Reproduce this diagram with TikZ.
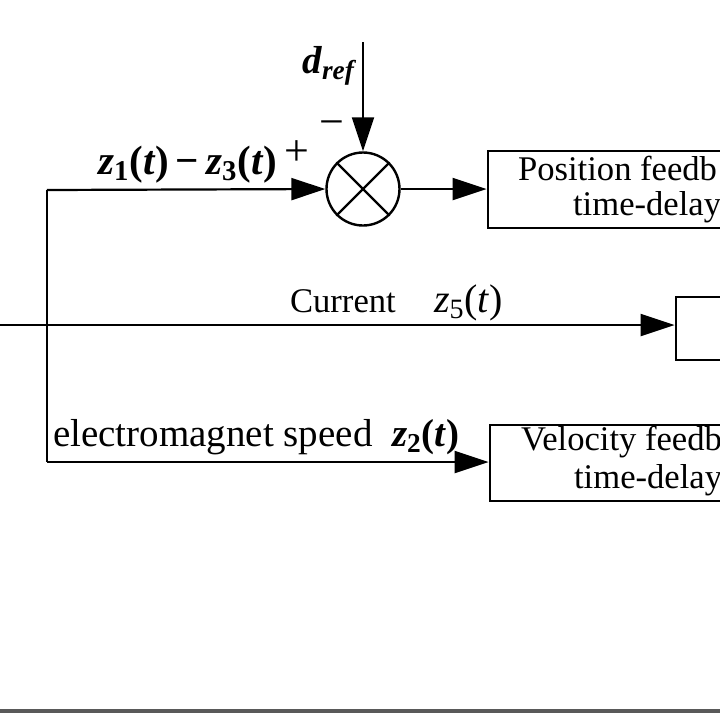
\documentclass[tikz,border=0pt]{standalone}
\usepackage{fontspec}
\setmainfont{Liberation Serif}
\usetikzlibrary{arrows.meta}
\begin{document}
\begin{tikzpicture}[x=0.5pt,y=-0.5pt,line width=1.1pt,
  >={Triangle[length=17pt,width=11pt]},
  blk/.style={draw,line width=1.4pt,rectangle,inner sep=0pt},
  txt/.style={anchor=base west,inner sep=0pt,font=\fontsize{17.3}{20}\selectfont},
  sgn/.style={inner sep=0pt,font=\fontsize{22}{24}\selectfont}]
\useasboundingbox (0,0) rectangle (720,720);
\clip (0,0) rectangle (720,720);
% blocks
\node[blk,minimum width=206pt,minimum height=38.5pt] (PB) at (694,189.5) {};
\node[blk,minimum width=100pt,minimum height=31.5pt] (CB) at (776,328.5) {};
\node[blk,minimum width=205pt,minimum height=38pt] (VB) at (695,463) {};
\node[draw,circle,minimum size=36.5pt,inner sep=0pt,line width=1.2pt] (S) at (363,189) {};
\draw[line width=1.2pt] (S.45) -- (S.225) (S.135) -- (S.315);
% block texts
\node[txt] (p1) at (517,180) {Position feedb};
\node[txt] (p2) at (572,215) {time-delay};
\node[txt] (v1) at (520,450) {Velocity feedb};
\node[txt] (v2) at (573,488) {time-delay};
% coordinates
\coordinate (TL) at (47,190);
\coordinate (BL) at (47,462);
\coordinate (L) at (0,325);
\coordinate (DT) at (363,42);
\coordinate (B1) at (0,711);
\coordinate (B2) at (720,711);
% connectors
\draw (TL) -- (BL);
\draw[->] (TL) -- (S.west);
\draw[->] (S.east) -- (S.east -| PB.west);
\draw[->] (DT) -- (S.north);
\draw[->] (L) -- (L -| CB.west);
\draw[->] (BL) -- (BL -| VB.west);
\draw[line width=2pt,black!65] (B1) -- (B2);
% labels
\node[txt,font=\fontsize{20.5}{22}\selectfont] (z13) at (97,174) {\textbf{\textit{z}\textsubscript{1}(\textit{t})\,−\,\textit{z}\textsubscript{3}(\textit{t})}};
\node[sgn] (plus) at (297,153) {+};
\node[sgn] (minus) at (332,129) {−};
\node[txt,font=\fontsize{19.5}{22}\selectfont] (dref) at (301,73) {\textbf{\textit{d}}\textsubscript{\textbf{\textit{ref}}}};
\node[txt] (cur) at (289,312) {Current};
\node[txt,font=\fontsize{20}{22}\selectfont] (z5) at (433,312) {\textit{z}\textsubscript{5}(\textit{t})};
\node[txt,font=\fontsize{19.5}{22}\selectfont] (ems) at (52,446) {electromagnet speed \ \textbf{\textit{z}\textsubscript{2}(\textit{t})}};
\end{tikzpicture}
\end{document}
